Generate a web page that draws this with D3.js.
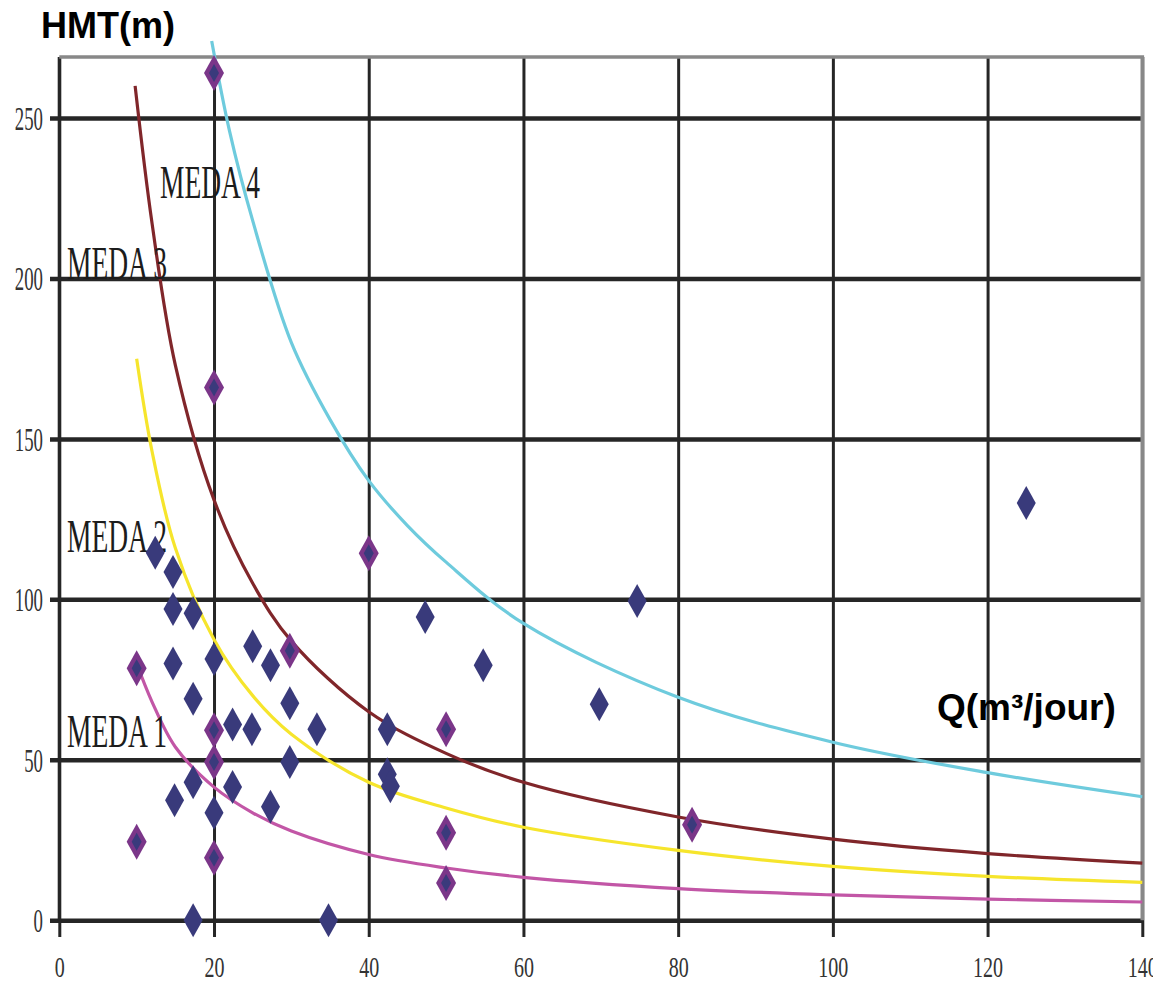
<!DOCTYPE html>
<html>
<head>
<meta charset="utf-8">
<script src="https://cdn.jsdelivr.net/npm/d3@7/dist/d3.min.js"></script>
<style>
	body { margin: 0; background: #fff; }
	svg { display: block; }
</style>
</head>
<body>
<div id="chart"></div>
<script>
// axis ticks
var xTicks = [0, 20, 40, 60, 80, 100, 120, 140];
var yTicks = [0, 50, 100, 150, 200, 250];

// fitted curves (Q in m3/jour, HMT in m)
var meda1Q = [10, 12, 15, 20, 25, 30, 40, 50, 60, 80, 100, 120, 140];
var meda1H = [80, 68, 54, 41.5, 33.5, 27.8, 20.5, 16.3, 13.4, 9.9, 7.9, 6.6, 5.7];
var meda2Q = [10, 12, 15, 20, 25, 30, 40, 50, 60, 80, 100, 120, 140];
var meda2H = [175, 146, 116, 87.5, 70, 58, 43, 35, 29, 21.8, 16.8, 13.7, 11.8];
var meda3Q = [9.8, 12, 15, 20, 25, 30, 40, 50, 60, 80, 100, 120, 140];
var meda3H = [260, 217, 173, 131, 105, 87, 65, 52, 43, 32.2, 25.3, 20.8, 17.8];
var meda4Q = [19.7, 22, 25, 30, 35, 40, 45, 50, 60, 80, 100, 120, 140];
var meda4H = [274, 246, 218, 180, 156, 137, 123, 111.6, 92.5, 69.5, 55.5, 46, 38.5];
var curveNames = ["MEDA 1", "MEDA 2", "MEDA 3", "MEDA 4"];

// measured pumps
var pumpQ = [12.4, 14.7, 14.7, 17.3, 74.7, 47.3, 25, 14.7, 20, 27.3, 54.8, 17.3, 29.8, 69.8, 22.4,
	24.9, 33.3, 42.4, 29.8, 42.4, 42.8, 17.3, 22.4, 14.9, 27.3, 20, 17.3, 34.8, 125];
var pumpH = [114.5, 108.5, 97, 95.7, 99.5, 94.5, 85.4, 80, 81.4, 79.5, 79.5, 69, 67.6, 67.3, 61,
	59.5, 59.5, 59.5, 49.3, 45.5, 41.8, 43, 41.5, 37.4, 35.4, 33.5, 0, 0, 130];
// points of the second series (purple)
var otherQ = [20, 20, 40, 29.8, 10, 20, 50, 20, 50, 10, 20, 50, 81.8];
var otherH = [264, 166, 114.4, 84, 78.5, 59.2, 59.5, 49.3, 27.3, 24.5, 19.5, 11.6, 29.8];

var W = 1153, H = 983;
var svg = d3.select("#chart").append("svg")
	.attr("width", W)
	.attr("height", H);

var x = d3.scaleLinear().domain([0, 140]).range([59.3, 1142.3]);
var y = d3.scaleLinear().domain([0, 269]).range([920.3, 57]);

//horizontal grid + y labels
var yAxis = svg.append("g")
	.attr("transform", "translate(50,0)")
	.call(d3.axisLeft(y).tickValues(yTicks).tickSize(-(x(140) - 50)).tickSizeOuter(0).tickPadding(7));
yAxis.select(".domain").remove();
yAxis.selectAll(".tick line").attr("stroke", "#262626").attr("stroke-width", 4.5);
yAxis.selectAll(".tick text")
	.attr("font-family", "Liberation Serif")
	.attr("font-size", 33)
	.attr("fill", "#333")
	.attr("dy", "0.34em")
	.attr("textLength", function (d) { return String(d).length * 9.4; })
	.attr("lengthAdjust", "spacingAndGlyphs");

//vertical grid + x labels
var xAxis = svg.append("g")
	.attr("transform", "translate(0,937)")
	.call(d3.axisBottom(x).tickValues(xTicks).tickSize(-(937 - 57)).tickSizeOuter(0));
xAxis.select(".domain").remove();
xAxis.selectAll(".tick line").attr("stroke", "#262626").attr("stroke-width", 3);
xAxis.selectAll(".tick text")
	.attr("y", 40)
	.attr("dy", null)
	.attr("font-family", "Liberation Serif")
	.attr("font-size", 30)
	.attr("fill", "#333")
	.attr("textLength", function (d) { return String(d).length * 10; })
	.attr("lengthAdjust", "spacingAndGlyphs");

// frame: dark left axis, grey top and right
svg.append("line")
	.attr("x1", x(0)).attr("x2", x(0))
	.attr("y1", y(269)).attr("y2", y(0))
	.attr("stroke", "#262626").attr("stroke-width", 3.2);
svg.append("path")
	.attr("d", "M" + x(0) + "," + y(269) + "H" + x(140) + "V" + y(0))
	.attr("fill", "none")
	.attr("stroke", "#888")
	.attr("stroke-width", 3.6);

// curves
var curves = [
	{ q: meda1Q, h: meda1H, color: "#c256a6" },
	{ q: meda2Q, h: meda2H, color: "#f6e52c" },
	{ q: meda3Q, h: meda3H, color: "#80262a" },
	{ q: meda4Q, h: meda4H, color: "#6ecbdd" }
];
var line = d3.line()
	.x(function (d) { return x(d[0]); })
	.y(function (d) { return y(d[1]); })
	.curve(d3.curveCatmullRom.alpha(0.5));

svg.append("g").selectAll("path")
	.data(curves)
	.enter()
	.append("path")
	.attr("d", function (c) { return line(d3.zip(c.q, c.h)); })
	.attr("fill", "none")
	.attr("stroke", function (c) { return c.color; })
	.attr("stroke-width", 3.2);

// curve labels
var labelPos = [[67, 747], [67, 552], [67, 279], [160, 198]];
svg.append("g").selectAll("text")
	.data(curveNames)
	.enter()
	.append("text")
	.attr("x", function (d, i) { return labelPos[i][0]; })
	.attr("y", function (d, i) { return labelPos[i][1]; })
	.attr("font-family", "Liberation Serif")
	.attr("font-size", 46)
	.attr("fill", "#1c1c1c")
	.attr("textLength", 100)
	.attr("lengthAdjust", "spacingAndGlyphs")
	.text(function (d) { return d; });

// markers
function diamond (hw, hh) {
	return "M0," + (-hh) + "L" + hw + ",0L0," + hh + "L" + (-hw) + ",0Z";
}

var other = svg.append("g").selectAll("g")
	.data(d3.zip(otherQ, otherH))
	.enter()
	.append("g")
	.attr("transform", function (d) { return "translate(" + x(d[0]) + "," + y(d[1]) + ")"; });
other.append("path").attr("d", diamond(10, 18)).attr("fill", "#7b3689");
other.append("path").attr("d", diamond(5, 9)).attr("fill", "#3a3a7c");

svg.append("g").selectAll("path")
	.data(d3.zip(pumpQ, pumpH))
	.enter()
	.append("path")
	.attr("transform", function (d) { return "translate(" + x(d[0]) + "," + y(d[1]) + ")"; })
	.attr("d", diamond(9.5, 17))
	.attr("fill", "#393a7b");

// axis titles
svg.append("text")
	.attr("x", 41).attr("y", 38)
	.attr("font-family", "Liberation Sans")
	.attr("font-weight", "bold")
	.attr("font-size", 36)
	.attr("fill", "#000")
	.text("HMT(m)");

svg.append("text")
	.attr("x", 937).attr("y", 720)
	.attr("font-family", "Liberation Sans")
	.attr("font-weight", "bold")
	.attr("font-size", 37)
	.attr("fill", "#000")
	.text("Q(m³/jour)");
</script>
</body>
</html>
